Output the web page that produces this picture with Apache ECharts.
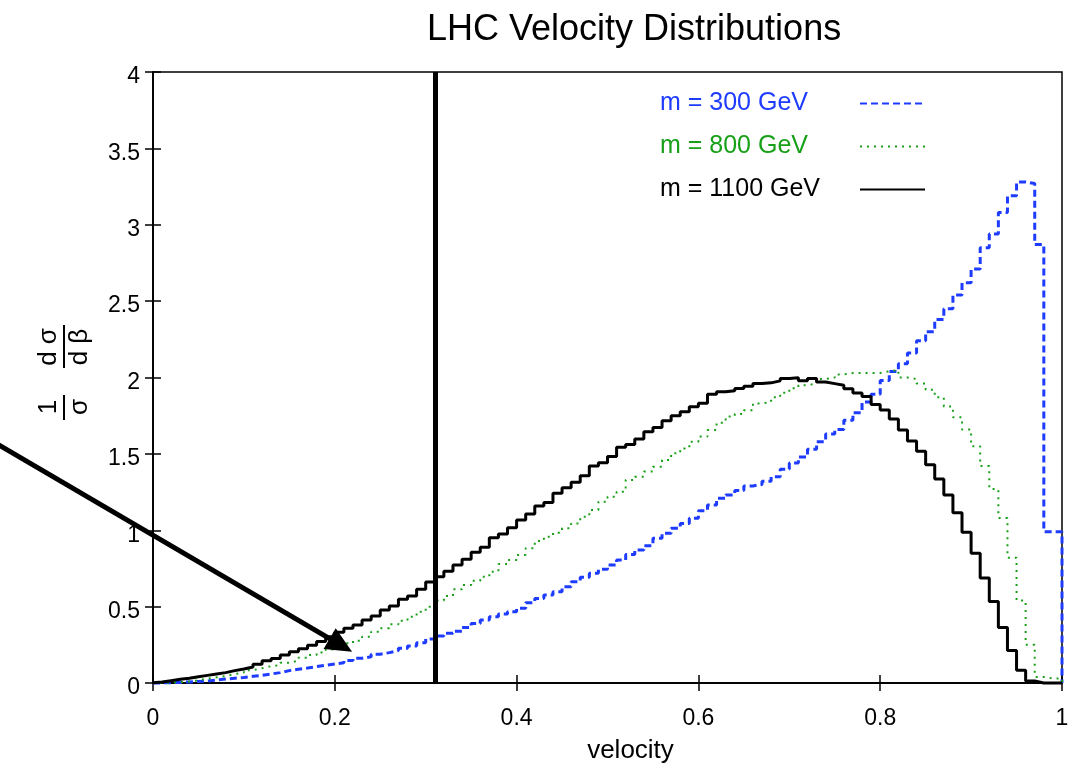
<!DOCTYPE html>
<html>
<head>
<meta charset="utf-8">
<title>LHC Velocity Distributions</title>
<script src="https://cdn.jsdelivr.net/npm/echarts@6/dist/echarts.min.js"></script>
<style>
html, body { margin: 0; padding: 0; background: #fff; }
#main { width: 1068px; height: 766px; }
</style>
</head>
<body>
<div id="main"></div>
<script>
// histogram bins of width 0.01 in velocity
var binWidth = 0.01;
var m300 = [
  0, 0.001, 0.002, 0.004, 0.007, 0.010, 0.013, 0.020, 0.026, 0.031,
  0.036, 0.044, 0.050, 0.059, 0.068, 0.081, 0.090, 0.098, 0.107, 0.116,
  0.124, 0.133, 0.148, 0.162, 0.172, 0.188, 0.199, 0.212, 0.227, 0.242,
  0.264, 0.288, 0.307, 0.325, 0.339, 0.364, 0.390, 0.412, 0.434, 0.451,
  0.467, 0.489, 0.526, 0.554, 0.576, 0.598, 0.630, 0.663, 0.692, 0.718,
  0.744, 0.773, 0.805, 0.842, 0.871, 0.899, 0.947, 0.980, 1.013, 1.045,
  1.078, 1.128, 1.165, 1.209, 1.231, 1.26, 1.29, 1.30, 1.32, 1.35,
  1.40, 1.44, 1.48, 1.53, 1.58, 1.63, 1.66, 1.72, 1.77, 1.84,
  1.89, 1.98, 2.04, 2.09, 2.16, 2.24, 2.30, 2.38, 2.45, 2.54,
  2.62, 2.71, 2.85, 2.94, 3.08, 3.19, 3.28, 3.27, 2.87, 0.99
];
var m800 = [
  0, 0.001, 0.003, 0.006, 0.010, 0.018, 0.028, 0.037, 0.046, 0.059,
  0.068, 0.084, 0.097, 0.110, 0.118, 0.133, 0.146, 0.166, 0.183, 0.200,
  0.220, 0.242, 0.260, 0.277, 0.303, 0.336, 0.358, 0.384, 0.408, 0.434,
  0.467, 0.500, 0.540, 0.570, 0.613, 0.642, 0.670, 0.696, 0.729, 0.779,
  0.805, 0.838, 0.882, 0.930, 0.958, 0.984, 1.013, 1.045, 1.089, 1.133,
  1.187, 1.220, 1.252, 1.329, 1.351, 1.384, 1.416, 1.460, 1.504, 1.536,
  1.580, 1.613, 1.656, 1.704, 1.744, 1.761, 1.785, 1.83, 1.84, 1.87,
  1.90, 1.93, 1.95, 1.96, 1.99, 2.00, 2.02, 2.03, 2.03, 2.03,
  2.03, 2.04, 2.05, 2.00, 1.99, 1.96, 1.92, 1.87, 1.81, 1.74,
  1.66, 1.55, 1.42, 1.27, 1.08, 0.82, 0.54, 0.25, 0.04, 0.03
];
var m1100 = [
  0.002, 0.006, 0.015, 0.024, 0.031, 0.041, 0.050, 0.059, 0.068, 0.081,
  0.092, 0.105, 0.122, 0.146, 0.161, 0.183, 0.205, 0.225, 0.247, 0.271,
  0.303, 0.333, 0.358, 0.380, 0.412, 0.439, 0.478, 0.504, 0.548, 0.570,
  0.613, 0.661, 0.696, 0.732, 0.773, 0.810, 0.856, 0.888, 0.951, 0.975,
  1.017, 1.067, 1.106, 1.159, 1.181, 1.242, 1.279, 1.314, 1.357, 1.421,
  1.442, 1.482, 1.543, 1.562, 1.597, 1.645, 1.672, 1.717, 1.750, 1.776,
  1.809, 1.831, 1.890, 1.907, 1.914, 1.928, 1.943, 1.960, 1.965, 1.978,
  1.993, 1.998, 1.978, 1.993, 1.971, 1.960, 1.949, 1.927, 1.898, 1.876,
  1.823, 1.788, 1.728, 1.657, 1.584, 1.518, 1.429, 1.336, 1.230, 1.115,
  0.987, 0.850, 0.688, 0.533, 0.363, 0.212, 0.084, 0.013, 0, 0
];
var seriesNames = ['m = 300 GeV', 'm = 800 GeV', 'm = 1100 GeV'];
var seriesColors = ['#1e3cff', '#18a018', '#000000'];
var cutVelocity = 0.307;
// arrow in data coordinates (starts left of the y axis)
var arrowFrom = [-0.17, 1.56];
var arrowTo = [0.219, 0.205];

var font = 'Liberation Sans, Arial, sans-serif';

// turn bin values into step points (left edge of each bin, then close at 1)
function toSteps(vals) {
	var pts = [];
	for (var i = 0; i < vals.length; i++) {
		pts.push([Math.round(i * binWidth * 100) / 100, vals[i]]);
	}
	pts.push([1, vals[vals.length - 1]]);
	pts.push([1, 0]);
	return pts;
}

var myChart = echarts.init(document.getElementById('main'));

var option = {
	animation: false,
	backgroundColor: '#fff',
	title: {
		text: 'LHC Velocity Distributions',
		left: 422,
		top: 7,
		textStyle: { fontFamily: font, fontSize: 36, fontWeight: 'normal', color: '#000' }
	},
	legend: {
		orient: 'vertical',
		left: 655,
		top: 86,
		align: 'right',
		itemWidth: 65,
		itemHeight: 20,
		itemGap: 18,
		selectedMode: false,
		itemStyle: { opacity: 0, borderWidth: 0 },
		formatter: '{t|{name}}',
		textStyle: {
			fontFamily: font,
			fontSize: 25,
			rich: { t: { width: 195, align: 'left', fontSize: 25, fontFamily: font, lineHeight: 24 } }
		},
		data: [
			{ name: seriesNames[0], textStyle: { color: seriesColors[0] } },
			{ name: seriesNames[1], textStyle: { color: seriesColors[1] } },
			{ name: seriesNames[2], textStyle: { color: seriesColors[2] } }
		]
	},
	grid: {
		left: 153,
		right: 6,
		top: 72,
		bottom: 83,
		outerBoundsMode: 'none',
		show: true,
		borderColor: '#000',
		borderWidth: 1.5
	},
	xAxis: [
		{
			type: 'value',
			min: 0,
			max: 1,
			interval: 0.2,
			name: 'velocity',
			nameLocation: 'middle',
			nameGap: 55,
			nameTextStyle: { fontFamily: font, fontSize: 26, color: '#000', padding: [0, 0, 0, 46] },
			axisLine: { lineStyle: { color: '#000', width: 1.5 } },
			axisTick: { inside: true, length: 8, lineStyle: { color: '#000', width: 1.5 } },
			axisLabel: { fontFamily: font, fontSize: 23, color: '#000', margin: 24 },
			splitLine: { show: false }
		},
		{
			type: 'value',
			position: 'top',
			min: 0,
			max: 1,
			interval: 0.2,
			axisLine: { lineStyle: { color: '#000', width: 1.5 } },
			axisTick: { inside: true, length: 8, lineStyle: { color: '#000', width: 1.5 } },
			axisLabel: { show: false },
			splitLine: { show: false }
		}
	],
	yAxis: [
		{
			type: 'value',
			min: 0,
			max: 4,
			interval: 0.5,
			axisLine: { show: true, lineStyle: { color: '#000', width: 1.5 } },
			axisTick: { show: true, inside: true, length: 8, lineStyle: { color: '#000', width: 1.5 } },
			axisLabel: {
				margin: 13,
				formatter: '{v|{value}}',
				rich: { v: { fontFamily: font, fontSize: 23, color: '#000', padding: [10, 0, 0, 0] } }
			},
			splitLine: { show: false }
		},
		{
			type: 'value',
			position: 'right',
			min: 0,
			max: 4,
			interval: 0.5,
			axisLine: { show: true, lineStyle: { color: '#000', width: 1.5 } },
			axisTick: { show: true, inside: true, length: 8, lineStyle: { color: '#000', width: 1.5 } },
			axisLabel: { show: false },
			splitLine: { show: false }
		}
	],
	series: [
		{
			name: seriesNames[0],
			type: 'line',
			step: 'start',
			symbol: 'none',
			clip: false,
			data: toSteps(m300),
			itemStyle: { color: seriesColors[0] },
			lineStyle: { color: seriesColors[0], width: 3, type: [7, 4] }
		},
		{
			name: seriesNames[1],
			type: 'line',
			step: 'start',
			symbol: 'none',
			clip: false,
			data: toSteps(m800),
			itemStyle: { color: seriesColors[1] },
			lineStyle: { color: seriesColors[1], width: 2, type: [2, 5] }
		},
		{
			name: seriesNames[2],
			type: 'line',
			step: 'start',
			symbol: 'none',
			clip: false,
			data: toSteps(m1100),
			itemStyle: { color: seriesColors[2] },
			lineStyle: { color: seriesColors[2], width: 3 },
			markLine: {
				silent: true,
				symbol: ['none', 'none'],
				label: { show: false },
				lineStyle: { color: '#000', width: 5, type: 'solid' },
				data: [{ xAxis: cutVelocity }]
			}
		}
	],
	graphic: [
		{
			// y axis title: (1/sigma) dsigma/dbeta, rotated
			type: 'group',
			id: 'ylabel',
			x: 64,
			y: 377,
			rotation: Math.PI / 2,
			children: [
				{ type: 'text', x: -30, y: -15, style: { text: '1', font: '26px ' + font, fill: '#000', align: 'center', verticalAlign: 'middle' } },
				{ type: 'line', shape: { x1: -43, y1: 0, x2: -18, y2: 0 }, style: { stroke: '#000', lineWidth: 2 } },
				{ type: 'text', x: -30, y: 16, style: { text: 'σ', font: '26px ' + font, fill: '#000', align: 'center', verticalAlign: 'middle' } },
				{ type: 'text', x: 30, y: -15, style: { text: 'd σ', font: '26px ' + font, fill: '#000', align: 'center', verticalAlign: 'middle' } },
				{ type: 'line', shape: { x1: 9, y1: 0, x2: 52, y2: 0 }, style: { stroke: '#000', lineWidth: 2 } },
				{ type: 'text', x: 30, y: 16, style: { text: 'd β', font: '26px ' + font, fill: '#000', align: 'center', verticalAlign: 'middle' } }
			]
		}
	]
};

myChart.setOption(option);

// arrow annotation, positioned from data coordinates
var p0 = myChart.convertToPixel({ gridIndex: 0 }, arrowFrom);
var p1 = myChart.convertToPixel({ gridIndex: 0 }, arrowTo);
var dx = p1[0] - p0[0], dy = p1[1] - p0[1];
var len = Math.sqrt(dx * dx + dy * dy);
var ux = dx / len, uy = dy / len;
var headLen = 26, headHalf = 12;
var bx = p1[0] - ux * headLen, by = p1[1] - uy * headLen;

myChart.setOption({
	graphic: [
		{
			type: 'line',
			id: 'arrowShaft',
			z: 100,
			shape: { x1: p0[0], y1: p0[1], x2: bx + ux * 2, y2: by + uy * 2 },
			style: { stroke: '#000', lineWidth: 5 }
		},
		{
			type: 'polygon',
			id: 'arrowHead',
			z: 100,
			shape: { points: [[p1[0], p1[1]], [bx - uy * headHalf, by + ux * headHalf], [bx + uy * headHalf, by - ux * headHalf]] },
			style: { fill: '#000' }
		}
	]
});
</script>
</body>
</html>
